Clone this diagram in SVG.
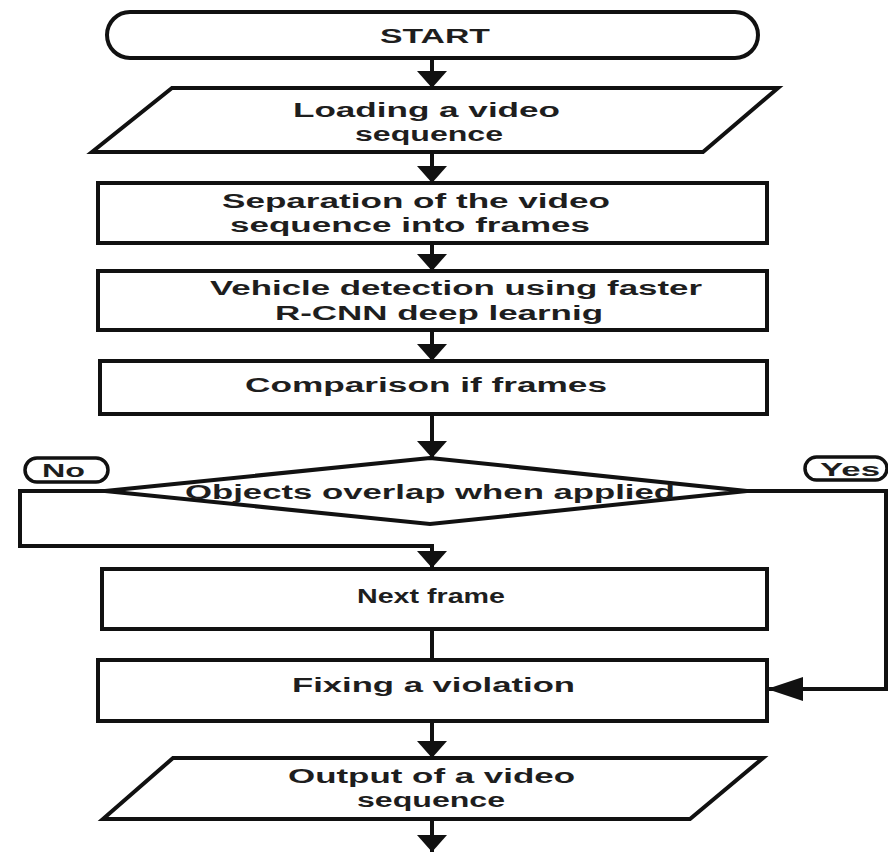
<svg xmlns="http://www.w3.org/2000/svg" width="888" height="852" viewBox="0 0 888 852">
<defs>
<style>
.shape{fill:#fff;stroke:#111;stroke-width:4;stroke-linejoin:miter}
.lbl{fill:#fff;stroke:#111;stroke-width:3.5}
.t{font-family:"Liberation Sans",Arial,sans-serif;font-weight:bold;font-size:20px;fill:#1e1e1e}
.s{font-size:19px}
.c{fill:none;stroke:#111;stroke-width:4}
</style>
<marker id="ah" viewBox="0 0 17 30" refX="17" refY="15" markerWidth="17" markerHeight="30" markerUnits="userSpaceOnUse" orient="auto">
<path d="M0,0 L17,15 L0,30 z" fill="#111"/>
</marker>
<marker id="ahs" viewBox="0 0 36 24" refX="36" refY="12" markerWidth="36" markerHeight="24" markerUnits="userSpaceOnUse" orient="auto">
<path d="M0,0 L36,12 L0,24 z" fill="#111"/>
</marker>
</defs>
<rect width="888" height="852" fill="#fff"/>
<g id="connectors">
<path class="c" d="M432,58 V88" marker-end="url(#ah)"/>
<path class="c" d="M432,152 V183" marker-end="url(#ah)"/>
<path class="c" d="M432,243 V271" marker-end="url(#ah)"/>
<path class="c" d="M432,330 V361" marker-end="url(#ah)"/>
<path class="c" d="M432,414 V458" marker-end="url(#ah)"/>
<path class="c" d="M105,491 H20 V546 H432 V568" marker-end="url(#ah)"/>
<path class="c" d="M747,491 H886 V689 H767" marker-end="url(#ahs)"/>
<path class="c" d="M432,629 V660"/>
<path class="c" d="M432,721 V758" marker-end="url(#ah)"/>
<path class="c" d="M432,819 V852" marker-end="url(#ah)"/>
</g>
<g id="start">
<rect class="shape" x="107" y="12" width="651" height="46" rx="23"/>
<text class="t" x="380" y="43" textLength="110" lengthAdjust="spacingAndGlyphs">START</text>
</g>
<g id="loading">
<polygon class="shape" points="172,88 778,88 703,152 92,152"/>
<text class="t" x="293" y="117" textLength="267" lengthAdjust="spacingAndGlyphs">Loading a video</text>
<text class="t" x="355" y="141" textLength="148" lengthAdjust="spacingAndGlyphs">sequence</text>
</g>
<g id="separation">
<rect class="shape" x="98" y="183" width="669" height="60"/>
<text class="t" x="222" y="208" textLength="388" lengthAdjust="spacingAndGlyphs">Separation of the video</text>
<text class="t" x="230" y="232" textLength="360" lengthAdjust="spacingAndGlyphs">sequence into frames</text>
</g>
<g id="detection">
<rect class="shape" x="98" y="271" width="669" height="59"/>
<text class="t" x="210" y="295" textLength="492" lengthAdjust="spacingAndGlyphs">Vehicle detection using faster</text>
<text class="t" x="275" y="320" textLength="328" lengthAdjust="spacingAndGlyphs">R-CNN deep learnig</text>
</g>
<g id="comparison">
<rect class="shape" x="100" y="361" width="667" height="53"/>
<text class="t" x="245" y="392" textLength="362" lengthAdjust="spacingAndGlyphs">Comparison if frames</text>
</g>
<g id="decision">
<polygon class="shape" points="430,458 747,491 430,524 105,491"/>
<text class="t" x="185" y="499" textLength="490" lengthAdjust="spacingAndGlyphs">Objects overlap when applied</text>
</g>
<g id="label-no">
<rect class="lbl" x="25" y="458" width="83" height="24" rx="12"/>
<text class="t s" x="42" y="477" textLength="43" lengthAdjust="spacingAndGlyphs">No</text>
</g>
<g id="label-yes">
<rect class="lbl" x="805" y="457" width="82" height="23" rx="11.5"/>
<text class="t s" x="820" y="476" textLength="60" lengthAdjust="spacingAndGlyphs">Yes</text>
</g>
<g id="next-frame">
<rect class="shape" x="102" y="569" width="665" height="60"/>
<text class="t" x="357" y="603" textLength="148" lengthAdjust="spacingAndGlyphs">Next frame</text>
</g>
<g id="fixing">
<rect class="shape" x="98" y="660" width="669" height="61"/>
<text class="t" x="292" y="692" textLength="283" lengthAdjust="spacingAndGlyphs">Fixing a violation</text>
</g>
<g id="output">
<polygon class="shape" points="173,758 763,758 690,819 103,819"/>
<text class="t" x="288" y="783" textLength="287" lengthAdjust="spacingAndGlyphs">Output of a video</text>
<text class="t" x="357" y="807" textLength="148" lengthAdjust="spacingAndGlyphs">sequence</text>
</g>
</svg>
